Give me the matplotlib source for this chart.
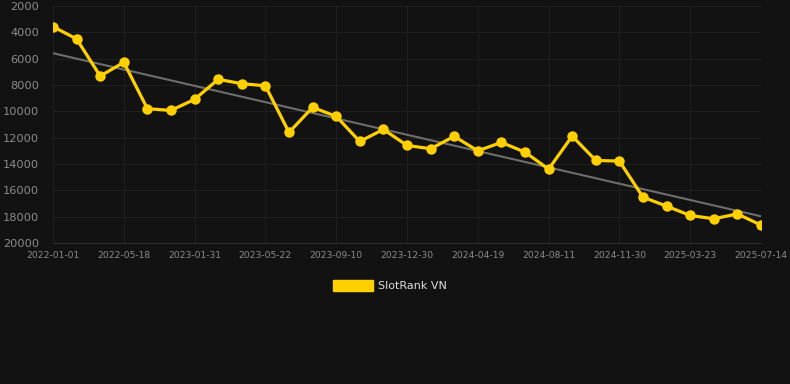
import matplotlib

matplotlib.use("Agg")
import matplotlib.pyplot as plt
import numpy as np
from matplotlib.patches import Patch

dates = [
    "2022-01-01", "2022-02-15", "2022-04-02", "2022-05-18", "2022-08-12",
    "2022-11-06", "2023-01-31", "2023-03-08", "2023-04-15", "2023-05-22",
    "2023-06-28", "2023-08-04", "2023-09-10", "2023-10-17", "2023-11-23",
    "2023-12-30", "2024-02-05", "2024-03-13", "2024-04-19", "2024-05-27",
    "2024-07-04", "2024-08-11", "2024-09-17", "2024-10-24", "2024-11-30",
    "2025-01-06", "2025-02-13", "2025-03-23", "2025-04-30", "2025-06-06",
    "2025-07-14",
]
rank = [
    3570, 4500, 7320, 6280, 9800, 9930, 9090, 7570, 7900, 8060,
    11600, 9700, 10380, 12290, 11370, 12590, 12840, 11900, 13000, 12360,
    13100, 14390, 11880, 13730, 13780, 16520, 17200, 17910, 18160, 17790,
    18640,
]
y_ticks = [2000, 4000, 6000, 8000, 10000, 12000, 14000, 16000, 18000, 20000]
series_name = "SlotRank VN"

BG = "#121212"
YELLOW = "#FFD000"
W, H = 790, 384

fig = plt.figure(figsize=(W / 100, H / 100), dpi=100, facecolor=BG)
ax = fig.add_axes([53 / W, 1 - 243 / H, (761 - 53) / W, (243 - 6) / H])
ax.set_facecolor(BG)

x = np.arange(len(dates))
slope, intercept = np.polyfit(x, rank, 1)
ax.plot(x, slope * x + intercept, color="#6e6e6e", linewidth=1.5, zorder=2)
ax.plot(
    x, rank, color=YELLOW, linewidth=2.3, marker="o", markersize=7.5,
    markeredgewidth=0, zorder=3,
)

ax.set_xlim(0, len(dates) - 1)
ax.set_ylim(20000, 2000)
ax.set_yticks(y_ticks)
ax.set_yticklabels([str(t) for t in y_ticks])
ax.set_xticks(x[::3])
ax.set_xticklabels(dates[::3])

ax.grid(True, color="#1f1f1f", linewidth=0.8, zorder=0)
for side in ["top", "right", "left"]:
    ax.spines[side].set_visible(False)
ax.spines["bottom"].set_color("#2e2e2e")
ax.tick_params(axis="y", length=0, pad=10, labelsize=8.2, labelcolor="#8c8c8c")
ax.tick_params(axis="x", length=0, pad=6, labelsize=6.6, labelcolor="#8c8c8c")

fig.legend(
    handles=[Patch(facecolor=YELLOW, edgecolor=YELLOW)],
    labels=[series_name],
    loc="upper center",
    bbox_to_anchor=(0.5 - 5 / W, 1 - 270 / H),
    frameon=False,
    handlelength=3.6,
    handleheight=1.1,
    handletextpad=0.5,
    fontsize=8,
    labelcolor="#dddddd",
)

fig.savefig("out.png", dpi=100, facecolor=BG)
